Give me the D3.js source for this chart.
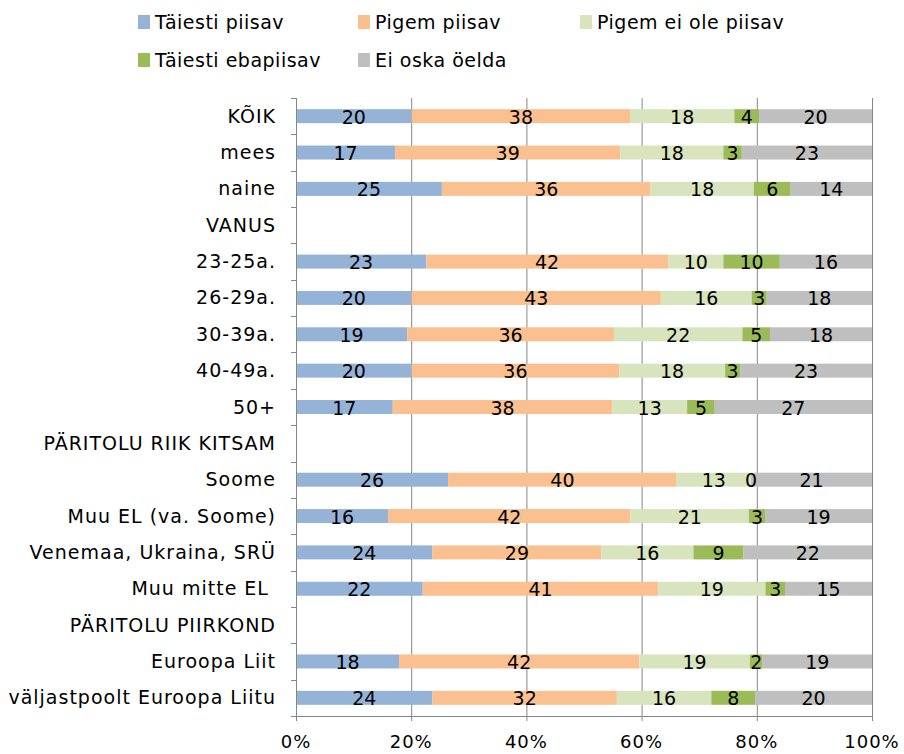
<!DOCTYPE html>
<html>
<head>
<meta charset="utf-8">
<script src="https://cdn.jsdelivr.net/npm/d3@7"></script>
<style>
  body { margin: 0; background: #fff; }
  svg { display: block; font-family: "DejaVu Sans", Verdana, sans-serif; }
</style>
</head>
<body>
<svg id="chart" width="904" height="754"></svg>
<script>
// categories top to bottom; group headers have no data
const categories = ["KÕIK", "mees", "naine", "VANUS", "23-25a.", "26-29a.", "30-39a.", "40-49a.", "50+",
    "PÄRITOLU RIIK KITSAM", "Soome", "Muu EL (va. Soome)", "Venemaa, Ukraina, SRÜ", "Muu mitte EL ",
    "PÄRITOLU PIIRKOND", "Euroopa Liit", "väljastpoolt Euroopa Liitu"];

const seriesNames = ["Täiesti piisav", "Pigem piisav", "Pigem ei ole piisav", "Täiesti ebapiisav", "Ei oska öelda"];
const seriesColors = ["#95B3D7", "#FAC090", "#D7E4BD", "#9BBB59", "#BFBFBF"];

// values per series, null = header row
const taiestiPiisav   = [20.1, 17.2, 25.3, null, 22.6, 20.1, 19.3, 20.1, 16.8, null, 26.4, 16.0, 23.7, 22.0, null, 17.9, 23.7];
const pigemPiisav     = [37.9, 39.1, 36.2, null, 42.0, 43.3, 35.9, 36.0, 38.1, null, 39.7, 42.2, 29.3, 40.9, null, 41.7, 32.0];
const pigemEiOle      = [18.1, 17.9, 17.9, null, 9.6, 15.8, 22.3, 18.4, 13.0, null, 12.9, 20.6, 16.0, 18.6, null, 19.2, 16.4];
const taiestiEbapiisav = [4.3, 3.2, 6.4, null, 9.8, 2.6, 4.8, 2.6, 4.8, null, 0, 2.8, 8.7, 3.4, null, 2.2, 7.6];
const eiOska          = [19.6, 22.6, 14.1, null, 16.0, 18.3, 17.7, 22.9, 27.3, null, 21.0, 18.6, 22.3, 15.1, null, 19.0, 20.3];

const xTicks = [0, 20, 40, 60, 80, 100];

const series = [taiestiPiisav, pigemPiisav, pigemEiOle, taiestiEbapiisav, eiOska];

const svg = d3.select("#chart");
const margin = { top: 98, right: 32, bottom: 38, left: 296 };
const width = 904, height = 754;

const x = d3.scaleLinear().domain([0, 100]).range([margin.left, width - margin.right]);
const y = d3.scaleBand().domain(categories).range([margin.top, height - margin.bottom]).paddingInner(0.615).paddingOuter(0.3075);
const band = d3.scaleBand().domain(categories).range([margin.top, height - margin.bottom]);

// gridlines
svg.append("g").selectAll("line").data(xTicks.slice(1)).join("line")
    .attr("x1", d => x(d) + 0.5).attr("x2", d => x(d) + 0.5)
    .attr("y1", margin.top).attr("y2", height - margin.bottom)
    .attr("stroke", "#868686").attr("stroke-width", 1);

// stacked bars, normalised to 100%
const rows = categories.map((c, i) => {
    if (taiestiPiisav[i] === null) return null;
    const vals = series.map(s => s[i]);
    const total = d3.sum(vals);
    let acc = 0;
    return vals.map((v, k) => {
        const seg = { cat: c, k, v, x0: acc / total * 100, x1: (acc + v) / total * 100 };
        acc += v;
        return seg;
    });
}).filter(r => r);

const segs = rows.flat();

svg.append("g").selectAll("rect").data(segs).join("rect")
    .attr("x", d => x(d.x0)).attr("width", d => x(d.x1) - x(d.x0))
    .attr("y", d => y(d.cat)).attr("height", y.bandwidth())
    .attr("fill", d => seriesColors[d.k]);

svg.append("g").selectAll("text").data(segs).join("text")
    .attr("x", d => (x(d.x0) + x(d.x1)) / 2)
    .attr("y", d => y(d.cat) + y.bandwidth() / 2 + 7.5)
    .attr("text-anchor", "middle").attr("font-size", "19px").attr("fill", "#000")
    .text(d => Math.round(d.v));

// left axis
const yAxis = svg.append("g").attr("transform", `translate(${margin.left},0)`);
yAxis.append("line").attr("x1", 0.5).attr("x2", 0.5).attr("y1", margin.top).attr("y2", height - margin.bottom)
    .attr("stroke", "#868686");
yAxis.selectAll("line.tick").data(categories.concat(["_end"])).join("line").attr("class", "tick")
    .attr("x1", -5).attr("x2", 0)
    .attr("y1", (d, i) => Math.round(margin.top + i * band.step()) + 0.5)
    .attr("y2", (d, i) => Math.round(margin.top + i * band.step()) + 0.5)
    .attr("stroke", "#868686");
yAxis.selectAll("text").data(categories).join("text")
    .attr("x", -20).attr("y", d => band(d) + band.bandwidth() / 2 + 6.5)
    .attr("text-anchor", "end").attr("font-size", "19px").attr("fill", "#000")
    .attr("letter-spacing", "1px")
    .style("white-space", "pre")
    .text(d => d);

// bottom axis
const xAxis = svg.append("g").attr("transform", `translate(0,${height - margin.bottom})`);
xAxis.append("line").attr("x1", x(0)).attr("x2", x(100)).attr("y1", 0.5).attr("y2", 0.5)
    .attr("stroke", "#868686");
xAxis.selectAll("line.tick").data(xTicks).join("line").attr("class", "tick")
    .attr("x1", d => x(d) + 0.5).attr("x2", d => x(d) + 0.5).attr("y1", 0).attr("y2", 5)
    .attr("stroke", "#868686");
xAxis.selectAll("text").data(xTicks).join("text")
    .attr("x", d => x(d)).attr("y", 32)
    .attr("text-anchor", "middle").attr("font-size", "18px").attr("fill", "#000")
    .attr("letter-spacing", "1px")
    .text(d => d + "%");

// legend
const legendPos = [[138, 22], [358, 22], [580, 22], [138, 60], [358, 60]];
const legend = svg.append("g").selectAll("g").data(seriesNames).join("g")
    .attr("transform", (d, i) => `translate(${legendPos[i][0]},${legendPos[i][1]})`);
legend.append("rect").attr("x", 0).attr("y", -7).attr("width", 12).attr("height", 14)
    .attr("fill", (d, i) => seriesColors[i]);
legend.append("text").attr("x", 17).attr("y", 7)
    .attr("font-size", "19px").attr("fill", "#000")
    .attr("letter-spacing", "0.5px")
    .text(d => d);
</script>
</body>
</html>
